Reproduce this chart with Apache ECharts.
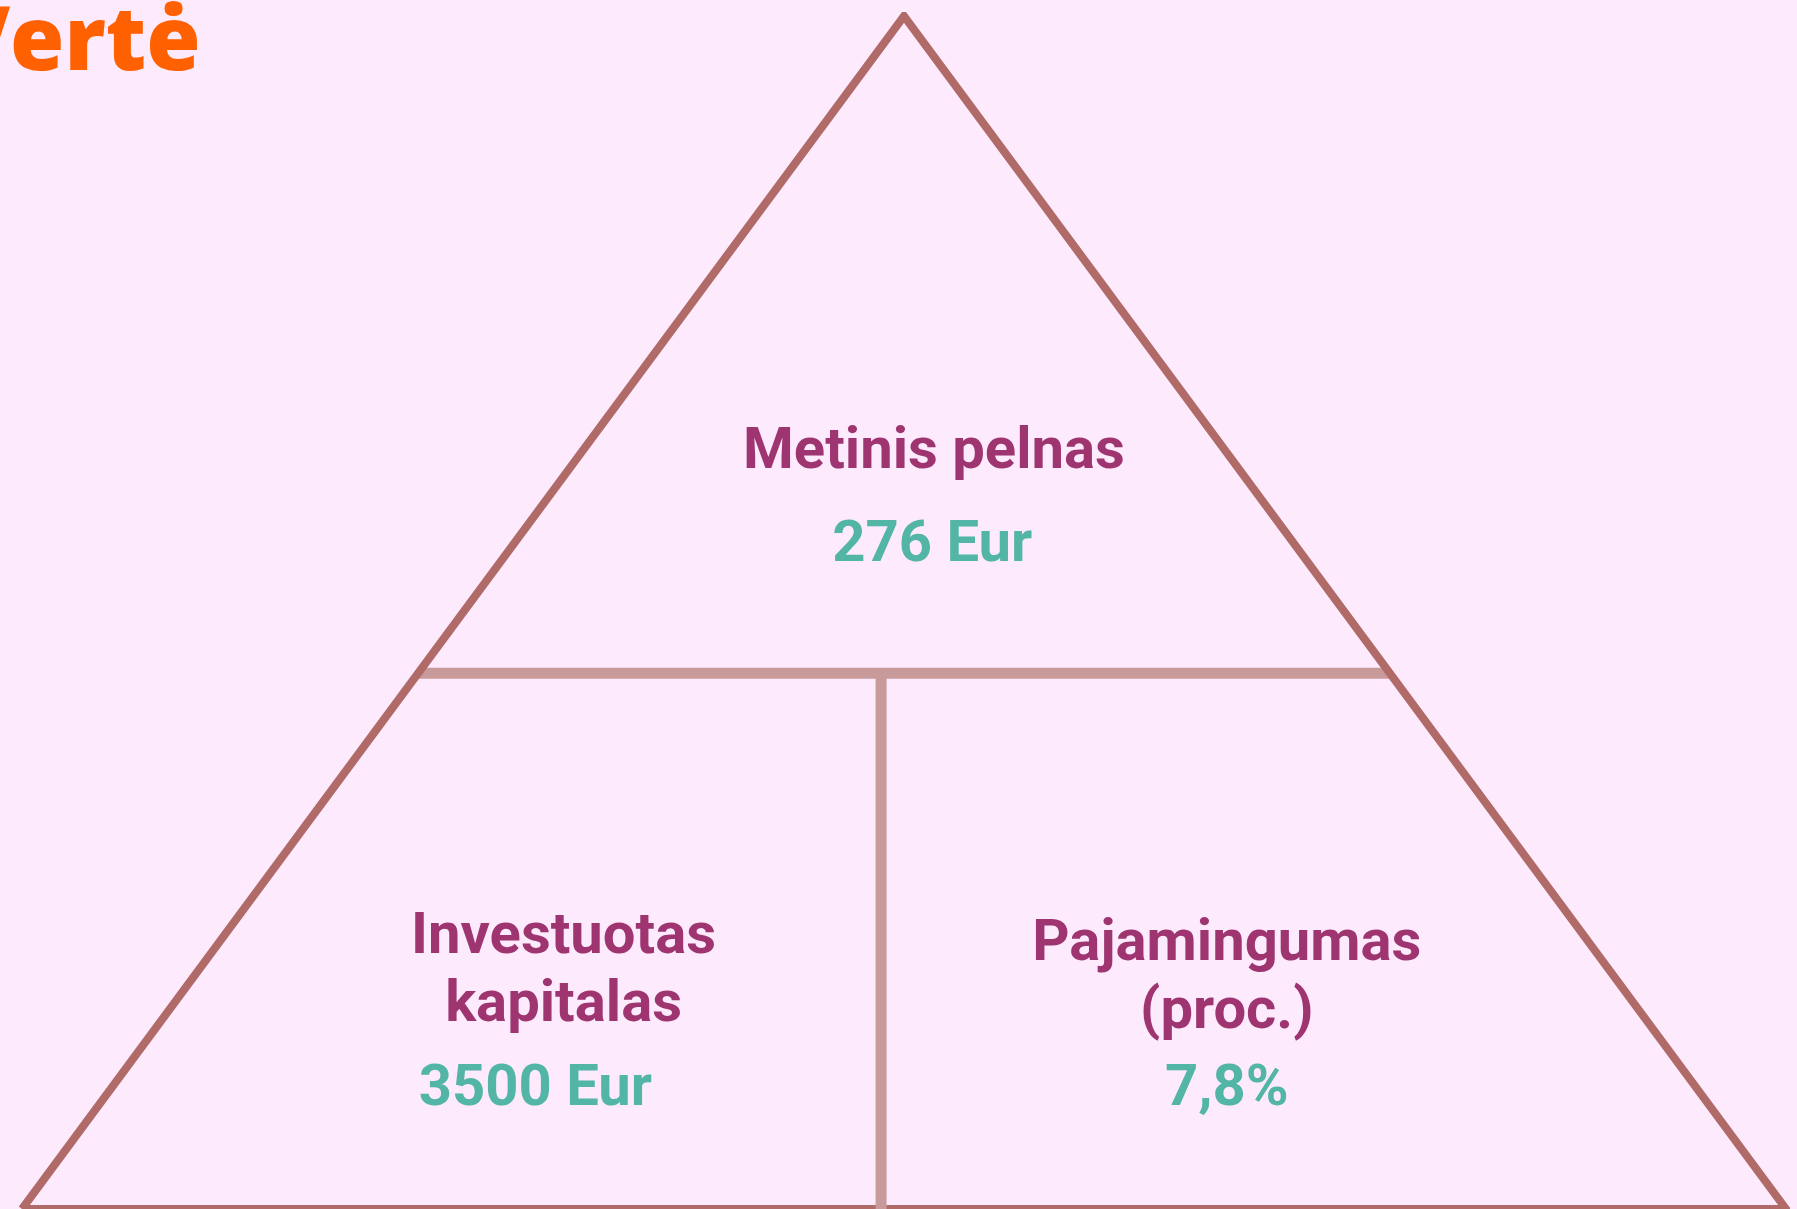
<!DOCTYPE html>
<html>
<head>
<meta charset="utf-8">
<script src="https://cdn.jsdelivr.net/npm/echarts@6/dist/echarts.min.js"></script>
<style>
  html, body { margin: 0; padding: 0; background: #fdeafd; }
  #main { width: 1797px; height: 1209px; }
</style>
</head>
<body>
<div id="main"></div>
<script>
// triangle in unit coordinates: base 0..1, apex at top
var outline = [[0, 0], [0.5, 1], [1, 0], [0, 0]];
var splitY = 0.449;          // height of the horizontal divider
var splitX = 0.487;          // position of the vertical divider
var divider = [[splitY / 2, splitY], [1 - splitY / 2, splitY]];
var stem = [[splitX, 0], [splitX, splitY]];

// text blocks: [x, y, text]
var names = [
  [0.517, 0.633, 'Metinis pelnas'],
  [0.307, 0.198, 'Investuotas\nkapitalas'],
  [0.683, 0.192, 'Pajamingumas\n(proc.)']
];
var values = [
  [0.516, 0.555, '276 Eur'],
  [0.291, 0.099, '3500 Eur'],
  [0.683, 0.099, '7,8%']
];

var chart = echarts.init(document.getElementById('main'));
chart.setOption({
  backgroundColor: '#fdeafd',
  animation: false,
  title: {
    text: 'Vertė',
    left: -51,
    top: 1,
    padding: 0,
    textStyle: {
      color: '#ff6000',
      fontFamily: 'Open Sans',
      fontWeight: 800,
      fontSize: 88
    }
  },
  grid: { left: 22, right: 11, top: 16, bottom: 0 },
  xAxis: { type: 'value', min: 0, max: 1, show: false },
  yAxis: { type: 'value', min: 0, max: 1, show: false },
  series: [
    {
      type: 'line', data: divider, symbol: 'none', silent: true,
      lineStyle: { color: '#c99a9a', width: 11 }, z: 1
    },
    {
      type: 'line', data: outline, symbol: 'none', silent: true,
      lineStyle: { color: '#b06a68', width: 8, join: 'miter' }, z: 2
    },
    {
      type: 'line', data: stem, symbol: 'none', silent: true,
      lineStyle: { color: '#c99a9a', width: 11 }, z: 3
    },
    {
      type: 'scatter', symbolSize: 0, silent: true, z: 4,
      itemStyle: { opacity: 1 },
      data: names.map(function (d) { return { value: [d[0], d[1]], name: d[2] }; }),
      label: {
        show: true, position: 'inside', formatter: '{b}',
        color: '#9e3571', fontFamily: 'Roboto', fontWeight: 'bold',
        fontSize: 58, lineHeight: 68, align: 'center', verticalAlign: 'middle'
      }
    },
    {
      type: 'scatter', symbolSize: 0, silent: true, z: 4,
      itemStyle: { opacity: 1 },
      data: values.map(function (d) { return { value: [d[0], d[1]], name: d[2] }; }),
      label: {
        show: true, position: 'inside', formatter: '{b}',
        color: '#52b5a5', fontFamily: 'Roboto', fontWeight: 'bold',
        fontSize: 58, align: 'center', verticalAlign: 'middle'
      }
    }
  ]
});
</script>
</body>
</html>
